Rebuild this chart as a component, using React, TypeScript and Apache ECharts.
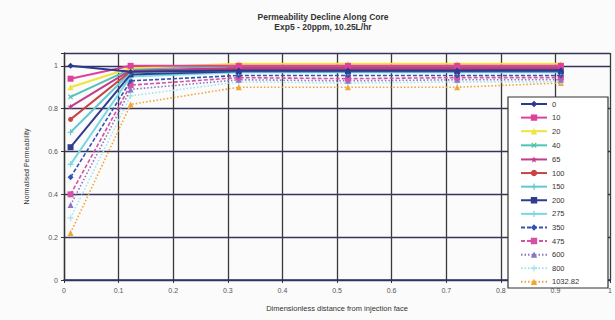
import React, { useEffect, useRef } from "react";
import * as echarts from "echarts";

const xPositions = [0.012, 0.122, 0.32, 0.52, 0.72, 0.91];
const seriesNames = ["0", "10", "20", "40", "65", "100", "150", "200", "275", "350", "475", "600", "800", "1032.82"];
const v0 = [1.0, 0.972, 0.978, 0.978, 0.978, 0.98];
const v10 = [0.94, 1.0, 1.0, 1.0, 1.0, 1.0];
const v20 = [0.9, 0.99, 1.01, 1.01, 1.01, 1.01];
const v40 = [0.855, 0.985, 1.0, 1.0, 1.0, 1.0];
const v65 = [0.81, 0.98, 0.99, 0.99, 0.99, 0.99];
const v100 = [0.75, 0.975, 0.985, 0.985, 0.985, 0.985];
const v150 = [0.69, 0.97, 0.98, 0.98, 0.98, 0.98];
const v200 = [0.62, 0.96, 0.975, 0.975, 0.975, 0.975];
const v275 = [0.54, 0.95, 0.97, 0.97, 0.97, 0.97];
const v350 = [0.48, 0.93, 0.955, 0.955, 0.955, 0.955];
const v475 = [0.4, 0.91, 0.945, 0.94, 0.945, 0.945];
const v600 = [0.35, 0.89, 0.935, 0.93, 0.935, 0.935];
const v800 = [0.29, 0.86, 0.925, 0.92, 0.925, 0.925];
const v1032 = [0.22, 0.82, 0.9, 0.9, 0.9, 0.92];
const allValues = [v0, v10, v20, v40, v65, v100, v150, v200, v275, v350, v475, v600, v800, v1032];
const xTicks = ["0", "0.1", "0.2", "0.3", "0.4", "0.5", "0.6", "0.7", "0.8", "0.9", "1"];
const yTicks = ["0", "0.2", "0.4", "0.6", "0.8", "1"];

const colors = ["#2b3a8c", "#e0409a", "#f2e23a", "#52c2b2", "#c03c8c", "#c84444", "#62c8d2", "#303c90", "#78d8e2", "#3452b4", "#d452a4", "#8a76c6", "#a6e2ea", "#f2a434"];
const PLUS = "path://M4,0H6V4H10V6H6V10H4V6H0V4H4Z";
const STAR = "path://M5,0L6.2,3.4L10,3.6L7,5.8L8.1,9.5L5,7.3L1.9,9.5L3,5.8L0,3.6L3.8,3.4Z";
const symbols = ["diamond", "rect", "triangle", PLUS, STAR, "circle", PLUS, "rect", PLUS, "diamond", "rect", "triangle", PLUS, "triangle"];
const rotations = [0, 0, 0, 45, 0, 0, 0, 0, 0, 0, 0, 0, 0, 0];
const lineTypes: any[] = ["solid", "solid", "solid", "solid", "solid", "solid", "solid", "solid", "solid", [4, 2], [4, 2], [1.5, 2], [1.5, 2], [1.5, 2]];
const FONT = "Liberation Sans, Arial, sans-serif";

export default function App() {
  const ref = useRef<HTMLDivElement>(null);
  useEffect(() => {
    const chart = echarts.init(ref.current!, null, { renderer: "svg" });
    const series = seriesNames.map((name, si) => ({
      name,
      type: "line",
      data: xPositions.map((x, i) => [x, allValues[si][i]]),
      symbol: symbols[si],
      symbolSize: symbols[si] === "circle" ? 5 : 6,
      symbolRotate: rotations[si],
      showSymbol: true,
      color: colors[si],
      lineStyle: { width: si < 9 ? 2 : 1.6, type: lineTypes[si], color: colors[si] },
      itemStyle: { color: colors[si] },
      z: 20 - si,
    }));
    chart.setOption({
      animation: false,
      backgroundColor: "#fbfbfb",
      title: [
        { text: "Permeability Decline Along Core", left: 318, top: 7, textAlign: "center", textStyle: { fontSize: 8.5, fontWeight: "bold", color: "#333", fontFamily: FONT } },
        { text: "Exp5 - 20ppm, 10.25L/hr", left: 318, top: 17, textAlign: "center", textStyle: { fontSize: 8.5, fontWeight: "bold", color: "#333", fontFamily: FONT } },
      ],
      grid: { left: 64, right: 3, top: 53, bottom: 40 },
      xAxis: {
        type: "value",
        min: 0,
        max: 1,
        interval: 0.1,
        name: "Dimensionless distance from injection face",
        nameLocation: "middle",
        nameGap: 24,
        nameTextStyle: { fontSize: 7.5, color: "#333", fontFamily: FONT },
        axisLine: { show: true, lineStyle: { color: "#2e3070", width: 1.5 } },
        axisTick: { show: true, length: 3, lineStyle: { color: "#333" } },
        axisLabel: { fontSize: 7, color: "#555", fontFamily: FONT, margin: 7, formatter: (v: number) => xTicks[Math.round(v * 10)] ?? "" },
        splitLine: { show: true, lineStyle: { color: "#3a3a3a", width: 1.3 } },
      },
      yAxis: {
        type: "value",
        min: 0,
        max: 1.06,
        interval: 0.2,
        name: "Normalised Permeability",
        nameLocation: "middle",
        nameGap: 34,
        nameTextStyle: { fontSize: 7, color: "#333", fontFamily: FONT },
        axisLine: { show: true, lineStyle: { color: "#333", width: 1.3 } },
        axisTick: { show: true, length: 3, lineStyle: { color: "#333" } },
        axisLabel: {
          fontSize: 7, color: "#555", fontFamily: FONT, margin: 6,
          formatter: (v: number) => {
            const k = v / 0.2;
            return Math.abs(k - Math.round(k)) < 1e-6 ? yTicks[Math.round(k)] ?? "" : "";
          },
        },
        splitLine: { show: true, lineStyle: { color: "#34345e", width: 1.3 } },
      },
      legend: {
        orient: "vertical",
        left: 520,
        top: 100,
        itemWidth: 26,
        itemHeight: 8,
        itemGap: 5.6,
        padding: 0,
        z: 6,
        data: seriesNames,
        textStyle: { fontSize: 7.5, color: "#333", fontFamily: FONT, lineHeight: 8 },
      },
      graphic: [
        { type: "rect", z: 5, zlevel: 0, shape: { x: 508, y: 97, width: 100, height: 191 }, style: { fill: "#ffffff", stroke: "#333", lineWidth: 1.2 } },
      ],
      series,
    });
    return () => chart.dispose();
  }, []);
  return <div ref={ref} style={{ position: "absolute", left: 0, top: 0, width: 615, height: 320 }} />;
}
